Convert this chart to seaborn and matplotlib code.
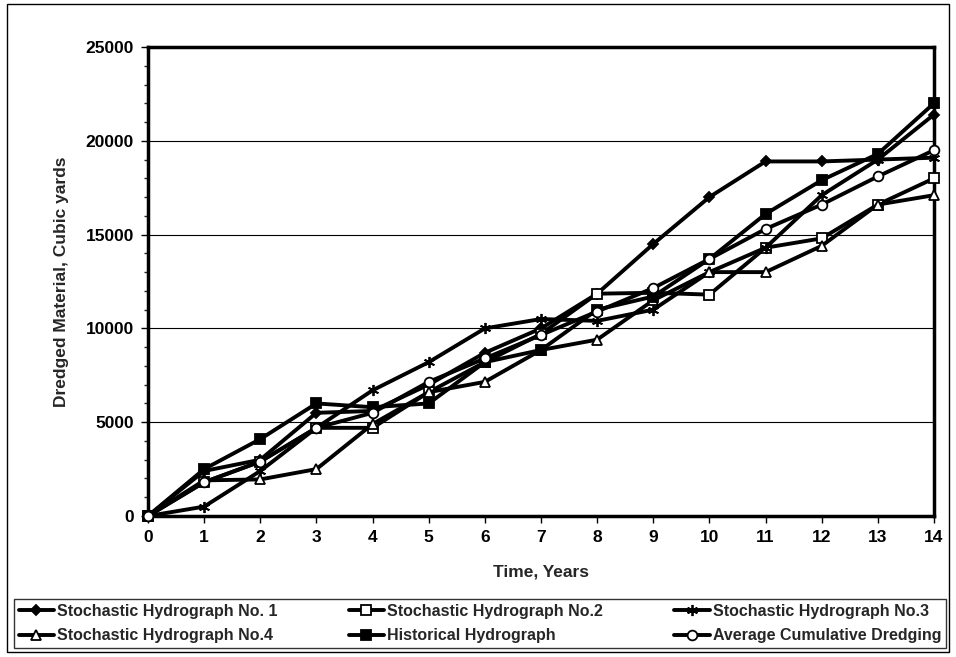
import matplotlib
matplotlib.use("Agg")
import matplotlib.pyplot as plt
import seaborn as sns
from matplotlib.patches import Rectangle
from matplotlib.ticker import MultipleLocator

years = list(range(15))
stoch1 = [0, 2400, 3000, 5500, 5600, 7000, 8700, 10000, 11850, 14500, 17000, 18900, 18900, 19000, 21400]
stoch2 = [0, 1800, 2900, 4700, 4700, 6600, 8200, 9700, 11850, 11900, 11800, 14300, 14800, 16600, 18000]
stoch3 = [0, 500, 2400, 4700, 6700, 8200, 10000, 10500, 10400, 11000, 13000, 14300, 17100, 19000, 19100]
stoch4 = [0, 1900, 1950, 2500, 4900, 6600, 7150, 8850, 9400, 11500, 13000, 13000, 14400, 16600, 17100]
historical = [0, 2500, 4100, 6000, 5800, 6000, 8200, 8850, 11000, 11700, 13700, 16100, 17900, 19300, 22000]
average = [0, 1800, 2900, 4700, 5500, 7150, 8400, 9650, 10900, 12150, 13700, 15300, 16600, 18100, 19500]

labels = ["Stochastic Hydrograph No. 1", "Stochastic Hydrograph No.2", "Stochastic Hydrograph No.3",
          "Stochastic Hydrograph No.4", "Historical Hydrograph", "Average Cumulative Dredging"]
series = [stoch1, stoch2, stoch3, stoch4, historical, average]
markers = ["D", "s", (6, 2, 0), "^", "s", "o"]
faces = ["black", "white", "black", "white", "black", "white"]
sizes = [5.5, 6.5, 8, 6.5, 7.5, 7]

sns.set_style("white")
plt.rcParams["font.family"] = ["Liberation Sans", "DejaVu Sans"]
plt.rcParams["font.weight"] = "bold"

fig = plt.figure(figsize=(9.56, 6.57), dpi=100)
ax = fig.add_axes([148/956, 1-516/657, (934-148)/956, (516-47)/657])

for vals, lab, m, fc, ms in zip(series, labels, markers, faces, sizes):
    sns.lineplot(x=years, y=vals, ax=ax, color="black", linewidth=2.8, marker=m,
                 markersize=ms, markerfacecolor=fc, markeredgecolor="black",
                 markeredgewidth=1.3, label=lab, clip_on=False, zorder=3)

ax.set_xlim(0, 14)
ax.set_ylim(0, 25000)
ax.set_xticks(years)
ax.yaxis.set_major_locator(MultipleLocator(5000))
ax.yaxis.set_minor_locator(MultipleLocator(1000))
ax.grid(axis="y", which="major", color="black", linewidth=0.8)
ax.set_axisbelow(True)
for sp in ax.spines.values():
    sp.set_linewidth(2.5)
    sp.set_color("black")
ax.tick_params(axis="both", which="major", direction="out", length=5, width=1,
               labelsize=12.5, colors="black", left=True, bottom=True, pad=5)
ax.tick_params(axis="y", which="minor", direction="out", length=3, width=1, left=True)
for t in ax.get_xticklabels() + ax.get_yticklabels():
    t.set_fontweight("bold")
ax.set_xlabel("Time, Years", fontsize=12.5, fontweight="bold", labelpad=14)
ax.set_ylabel("Dredged Material, Cubic yards", fontsize=12.5, fontweight="bold", labelpad=12)

h, l = ax.get_legend_handles_labels()
ax.get_legend().remove()
order = [0, 3, 1, 4, 2, 5]
leg = fig.legend([h[i] for i in order], [l[i] for i in order], ncol=3, mode="expand",
                 loc="lower left", bbox_to_anchor=(14/956, 1-648/657, 932/956, 50/657),
                 frameon=True, fancybox=False, edgecolor="black",
                 handlelength=2.2, handletextpad=0.2, borderaxespad=0, labelspacing=0.6,
                 borderpad=0.3, prop={"weight": "bold", "size": 11.5})
leg.get_frame().set_linewidth(1)

fig.patches.append(Rectangle((7/956, 1-652/657), 942/956, 648/657, transform=fig.transFigure,
                             fill=False, edgecolor="black", linewidth=1))

fig.savefig("out.png", dpi=100)
